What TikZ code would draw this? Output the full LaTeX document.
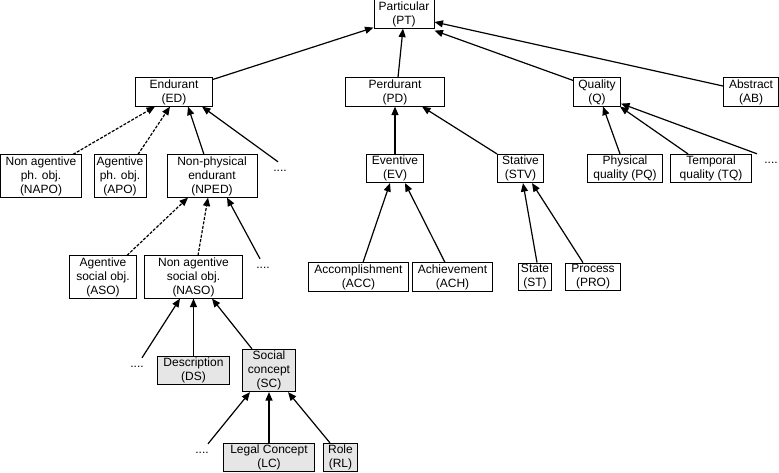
\documentclass[tikz,border=0pt]{standalone}
\usepackage{fontspec}
\setmainfont{Liberation Sans}
\usetikzlibrary{arrows.meta}
\definecolor{dolgray}{HTML}{E6E6E6}

\begin{document}
\begin{tikzpicture}[x=1pt, y=-1pt,
    cat/.style={draw, line width=1pt, align=center, inner xsep=2pt, inner ysep=1.5pt,
      font=\fontsize{12}{14}\selectfont},
    social/.style={cat, fill=dolgray},
    more/.style={inner sep=1pt, text height=8pt, text depth=0pt, anchor=base,
      font=\fontsize{12}{14}\selectfont},
    isa/.style={line width=1.2pt, -{Triangle[length=8.5pt,width=7pt]}},
    weak/.style={isa, dash pattern=on 3pt off 1.5pt}]
  \useasboundingbox (0,0) rectangle (779,472);
  % Top level
  \node[cat, minimum width=60pt] (pt) at (404,14) {Particular\\(PT)};
  \node[cat, minimum width=77pt] (ed) at (174,92) {Endurant\\(ED)};
  \node[cat, minimum width=99pt] (pd) at (395,92) {Perdurant\\(PD)};
  \node[cat, minimum width=47pt] (q) at (597,92) {Quality\\(Q)};
  \node[cat, minimum width=55pt] (ab) at (751,92) {Abstract\\(AB)};
  % Endurants
  \node[cat, minimum width=81pt] (napo) at (41,176) {Non agentive\\ph. obj.\\(NAPO)};
  \node[cat, minimum width=52pt] (apo) at (120,176) {Agentive\\ph. obj.\\(APO)};
  \node[cat, minimum width=90pt] (nped) at (212,176) {Non-physical\\endurant\\(NPED)};
  \node[more] (edmore) at (280,171) {....};
  \node[cat, minimum width=67pt] (aso) at (103,277) {Agentive\\social obj.\\(ASO)};
  \node[cat, minimum width=98pt] (naso) at (193.5,277) {Non agentive\\social obj.\\(NASO)};
  \node[more] (npedmore) at (263,268) {....};
  \node[more] (nasomore) at (137,367) {....};
  \node[social, minimum width=72pt] (ds) at (193.5,370.5) {Description\\(DS)};
  \node[social, minimum width=53pt] (sc) at (269,370.5) {Social\\concept\\(SC)};
  \node[more] (scmore) at (202,453) {....};
  \node[social, minimum width=91pt] (lc) at (269,457.5) {Legal Concept\\(LC)};
  \node[social, minimum width=34pt] (rl) at (340.5,457.5) {Role\\(RL)};
  % Perdurants
  \node[cat, minimum width=57pt] (ev) at (395,168.5) {Eventive\\(EV)};
  \node[cat, minimum width=46pt] (stv) at (520.5,168.5) {Stative\\(STV)};
  \node[cat, minimum width=100pt] (acc) at (358.5,277) {Accomplishment\\(ACC)};
  \node[cat, minimum width=80pt] (ach) at (452.5,277) {Achievement\\(ACH)};
  \node[cat, minimum width=31pt] (st) at (535,277) {State\\(ST)};
  \node[cat, minimum width=55pt] (pro) at (593,277) {Process\\(PRO)};
  % Qualities
  \node[cat, minimum width=75pt] (pq) at (625,168.5) {Physical\\quality (PQ)};
  \node[cat, minimum width=81pt] (tq) at (711,168.5) {Temporal\\quality (TQ)};
  \node[more] (qmore) at (771,163) {....};
  % Links to Particular
  \draw[isa] ([yshift=-2pt]ed.north east) -- ([yshift=1pt]pt.south west);
  \draw[isa] ([xshift=3pt]pd.north) -- ([xshift=-1pt]pt.south);
  \draw[isa] ([yshift=-3pt]q.north west) -- ([yshift=-2pt]pt.south east);
  \draw[isa] ([yshift=6pt]ab.west) -- ([yshift=-8pt]pt.east);
  % Child to parent links
  \foreach \ch/\chx/\pa/\pax/\sty in {
    napo/32/ed/-19/weak, apo/18/ed/-4/weak, nped/-8/ed/14/isa, edmore/-2/ed/28/isa,
    aso/24/nped/-24/weak, naso/4.5/nped/-4/weak, npedmore/-3/nped/15/isa,
    nasomore/5/naso/-13.5/isa, ds/0/naso/0/isa, sc/-17/naso/18.5/isa,
    scmore/6/sc/-19/isa, lc/0/sc/0/isa, rl/-10.5/sc/19/isa,
    ev/0/pd/0/isa, stv/-23.5/pd/27/isa,
    acc/4.5/ev/-5/isa, ach/-7.5/ev/10/isa, st/2/stv/2.5/isa, pro/-10/stv/11.5/isa,
    pq/-5/q/6/isa, tq/-23/q/23/isa}{
    \draw[\sty] ([xshift=\chx pt]\ch.north) -- ([xshift=\pax pt]\pa.south);
  }
  \draw[isa] ([xshift=-14pt]qmore.north) -- ([yshift=3pt]q.south east);
\end{tikzpicture}
\end{document}
